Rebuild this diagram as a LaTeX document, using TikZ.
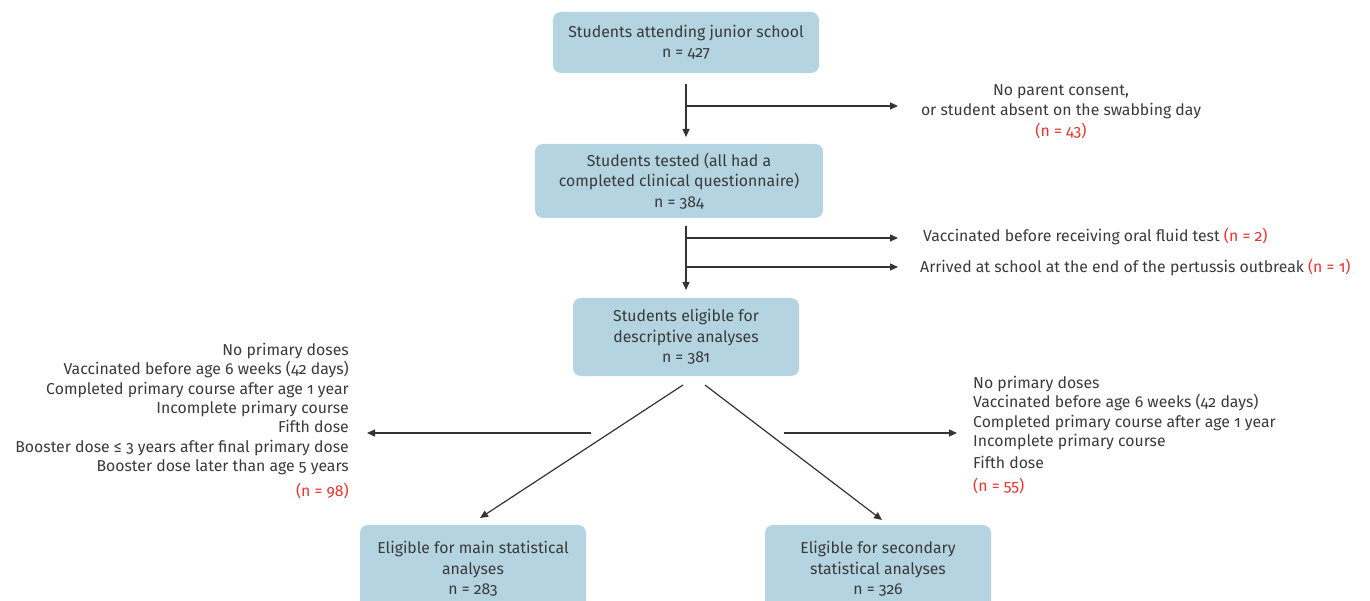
\documentclass[tikz,border=0pt]{standalone}
\usepackage{fontspec}
\setmainfont{Fira Sans}[Numbers=OldStyle]
\usetikzlibrary{arrows.meta}
\definecolor{boxblue}{HTML}{B3D4E0}
\definecolor{txtgray}{HTML}{3A3A3A}
\definecolor{linegray}{HTML}{333333}
\definecolor{nred}{HTML}{E8332F}
\tikzset{
  box/.style={fill=boxblue, rounded corners=8pt, align=center, inner sep=0pt, text=txtgray, font=\fontsize{15.8}{20.5}\selectfont},
  lbl/.style={text=txtgray, inner sep=0pt, font=\fontsize{15.8}{19.3}\selectfont},
  arr/.style={draw=linegray, line width=1.2pt, -{Triangle[width=7pt,length=8pt]}},
  ln/.style={draw=linegray, line width=1.2pt}
}
\begin{document}
\begin{tikzpicture}[x=1pt,y=-1pt]
\useasboundingbox (0,0) rectangle (1370,601);
% boxes
\node[box, minimum width=266pt, minimum height=61pt] (b1) at (686,42.5) {Students attending junior school\\n = 427};
\node[box, minimum width=288pt, minimum height=74pt] (b2) at (679,181) {Students tested (all had a\\completed clinical questionnaire)\\n = 384};
\node[box, minimum width=226pt, minimum height=78pt] (b3) at (686,337) {Students eligible for\\descriptive analyses\\n = 381};
\node[box, minimum width=226pt, minimum height=88pt] (b4) at (473,569) {Eligible for main statistical\\analyses\\n = 283};
\node[box, minimum width=226pt, minimum height=88pt] (b5) at (878,569) {Eligible for secondary\\statistical analyses\\n = 326};
% side texts
\node[lbl, align=center] (t1) at (1061,112) {No parent consent,\\or student absent on the swabbing day\\[2pt]\textcolor{nred}{(n = 43)}};
\node[lbl, anchor=west] (t2) at (923,237) {Vaccinated before receiving oral fluid test \textcolor{nred}{(n = 2)}};
\node[lbl, anchor=west] (t3) at (920,268) {Arrived at school at the end of the pertussis outbreak \textcolor{nred}{(n = 1)}};
\node[lbl, align=right, anchor=north east] (t4) at (349,343) {No primary doses\\Vaccinated before age 6 weeks (42 days)\\Completed primary course after age 1 year\\Incomplete primary course\\Fifth dose\\Booster dose ≤ 3 years after final primary dose\\Booster dose later than age 5 years\\[6pt]\textcolor{nred}{(n = 98)}};
\node[lbl, align=left, anchor=north west] (t5) at (973,376) {No primary doses\\Vaccinated before age 6 weeks (42 days)\\Completed primary course after age 1 year\\Incomplete primary course\\[3pt]Fifth dose\\[3pt]\textcolor{nred}{(n = 55)}};
% coordinates
\coordinate (v1s) at (686,84);
\coordinate (v1e) at (686,137);
\coordinate (h1s) at (686,106);
\coordinate (h1e) at (898,106);
\coordinate (v2s) at (686,226);
\coordinate (v2e) at (686,290);
\coordinate (h2s) at (686,238);
\coordinate (h2e) at (898,238);
\coordinate (h3s) at (686,267);
\coordinate (h3e) at (898,267);
\coordinate (d1s) at (683,385);
\coordinate (d1e) at (480,518);
\coordinate (d2s) at (705,385);
\coordinate (d2e) at (882,520);
\coordinate (l1s) at (591,433);
\coordinate (l1e) at (367,433);
\coordinate (r1s) at (784,433);
\coordinate (r1e) at (957,433);
% connectors
\draw[arr] (v1s) -- (v1e);
\draw[arr] (h1s) -- (h1e);
\draw[arr] (v2s) -- (v2e);
\draw[arr] (h2s) -- (h2e);
\draw[arr] (h3s) -- (h3e);
\draw[arr] (d1s) -- (d1e);
\draw[arr] (d2s) -- (d2e);
\draw[arr] (l1s) -- (l1e);
\draw[arr] (r1s) -- (r1e);
\end{tikzpicture}
\end{document}
